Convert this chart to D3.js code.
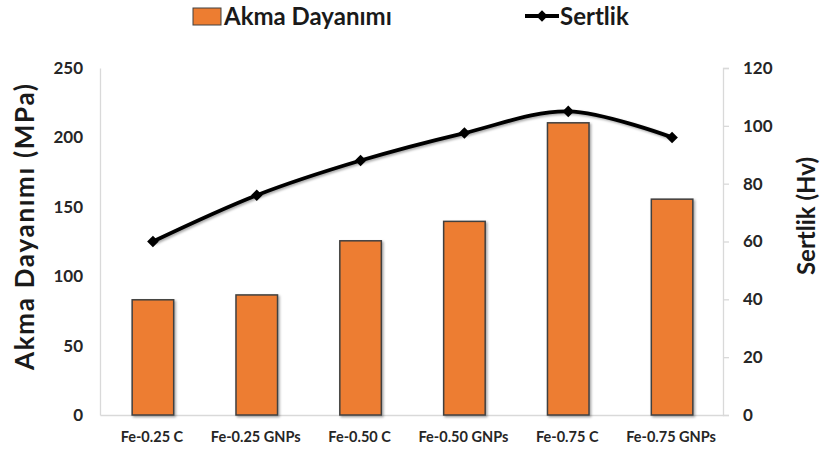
<!DOCTYPE html>
<html><head><meta charset="utf-8">
<script src="https://cdn.jsdelivr.net/npm/d3@7"></script>
<style>body{margin:0;background:#fff}svg{display:block}</style>
</head><body>
<script>
const categories = ["Fe-0.25 C","Fe-0.25 GNPs","Fe-0.50 C","Fe-0.50 GNPs","Fe-0.75 C","Fe-0.75 GNPs"];
const akmaDayanimi = [83, 86.5, 125.5, 139.5, 210.5, 155.5];
const sertlik = [60, 76, 88, 97.5, 105, 96];
const leftTicks = [0,50,100,150,200,250];
const rightTicks = [0,20,40,60,80,100,120];

const W=822,H=452;
const m={l:100,r:99,t:68,b:37};
const FONT="Lato, 'Open Sans', sans-serif";
const svg=d3.select("body").append("svg").attr("width",W).attr("height",H).style("font-family",FONT);
const defs=svg.append("defs");
const f=defs.append("filter").attr("id","sh").attr("x","-20%").attr("y","-20%").attr("width","140%").attr("height","140%");
f.append("feDropShadow").attr("dx",1.5).attr("dy",1.5).attr("stdDeviation",1.2).attr("flood-color","#000").attr("flood-opacity",0.35);

const x=d3.scaleBand().domain(categories).range([m.l,W-m.r]).paddingInner(0.6).paddingOuter(0.3);
const yL=d3.scaleLinear().domain([0,250]).range([H-m.b,m.t]);
const yR=d3.scaleLinear().domain([0,120]).range([H-m.b,m.t]);

// left axis
const gL=svg.append("g").attr("transform",`translate(${m.l},0)`).call(d3.axisLeft(yL).tickValues(leftTicks).tickSize(0).tickPadding(17));
gL.select(".domain").attr("stroke","#d9d9d9").attr("stroke-width",1.3);
gL.selectAll("text").attr("font-size",17).attr("font-weight","bold").attr("fill","#262626").style("font-family",FONT);

// right axis
const gR=svg.append("g").attr("transform",`translate(${W-m.r},0)`).call(d3.axisRight(yR).tickValues(rightTicks).tickSize(6).tickPadding(14));
gR.select(".domain").attr("stroke","#d9d9d9").attr("stroke-width",1.3);
gR.selectAll(".tick line").attr("stroke","#d9d9d9").attr("stroke-width",1.3);
gR.selectAll("text").attr("font-size",17).attr("font-weight","bold").attr("fill","#262626").style("font-family",FONT);

// bottom axis
const gB=svg.append("g").attr("transform",`translate(0,${H-m.b})`).call(d3.axisBottom(x).tickSize(0).tickPadding(17));
gB.select(".domain").attr("stroke","#d9d9d9").attr("stroke-width",1.3);
gB.selectAll("text").attr("font-size",14.5).attr("font-weight","bold").attr("fill","#262626").style("font-family",FONT);

// bars
svg.append("g").selectAll("rect").data(akmaDayanimi).join("rect")
  .attr("x",(d,i)=>x(categories[i])+1).attr("width",x.bandwidth())
  .attr("y",d=>yL(d)).attr("height",d=>yL(0)-yL(d))
  .attr("fill","#ED7D31").attr("stroke","#404040").attr("stroke-width",1.5)
  .attr("filter","url(#sh)");

// line
const pts=sertlik.map((v,i)=>[x(categories[i])+x.bandwidth()/2+1,yR(v)]);
svg.append("path").datum(pts).attr("d",d3.line().curve(d3.curveCatmullRom.alpha(0.5)))
  .attr("fill","none").attr("stroke","#000").attr("stroke-width",3.8).attr("filter","url(#sh)");
svg.append("g").selectAll("path").data(pts).join("path")
  .attr("transform",d=>`translate(${d[0]},${d[1]})`)
  .attr("d",d3.symbol(d3.symbolDiamond2,85)).attr("fill","#000");

// axis titles
svg.append("text").attr("transform",`translate(34,227) rotate(-90)`)
  .attr("text-anchor","middle").attr("font-size",26).attr("font-weight","bold").attr("fill","#1a1a1a")
  .attr("textLength",286).attr("lengthAdjust","spacing")
  .text("Akma Dayanımı (MPa)");
svg.append("text").attr("transform",`translate(815,216) rotate(-90)`)
  .attr("text-anchor","middle").attr("font-size",24).attr("font-weight","bold").attr("fill","#1a1a1a")
  .text("Sertlik (Hv)");

// legend
const lg=svg.append("g");
lg.append("rect").attr("x",193).attr("y",8).attr("width",28).attr("height",17).attr("fill","#ED7D31").attr("stroke","#404040").attr("stroke-width",1);
lg.append("text").attr("x",224).attr("y",25).attr("font-size",24).attr("font-weight","bold").attr("fill","#1a1a1a").text("Akma Dayanımı");
lg.append("line").attr("x1",525).attr("x2",559).attr("y1",16).attr("y2",16).attr("stroke","#000").attr("stroke-width",3.8);
lg.append("path").attr("transform","translate(542,16)").attr("d",d3.symbol(d3.symbolDiamond2,85)).attr("fill","#000");
lg.append("text").attr("x",560).attr("y",25).attr("font-size",24).attr("font-weight","bold").attr("fill","#1a1a1a").text("Sertlik");
</script>
</body></html>
